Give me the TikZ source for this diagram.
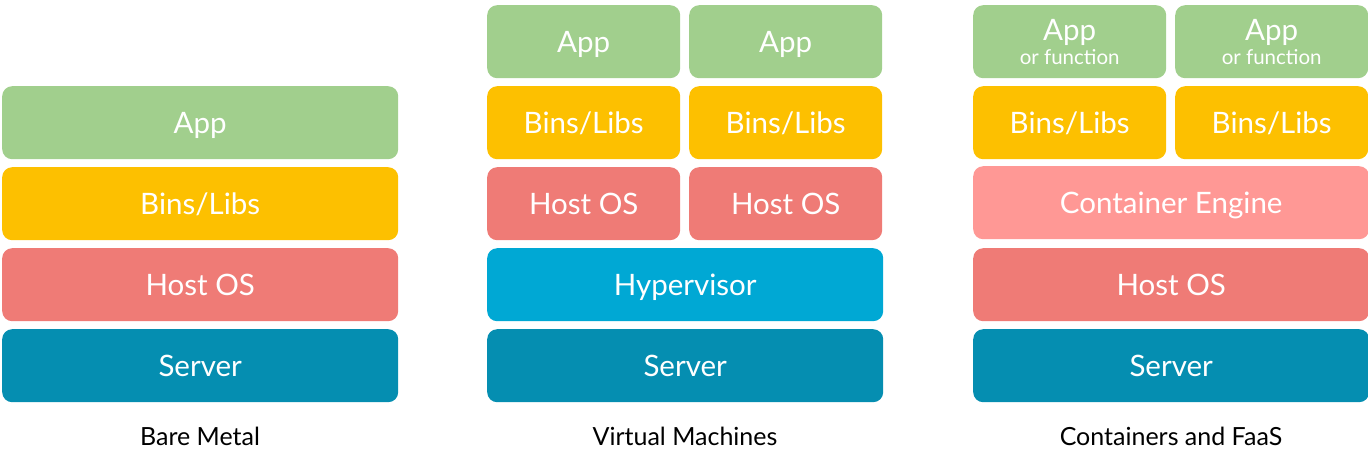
\documentclass[tikz,border=0pt]{standalone}
\usepackage{fontspec}
\setmainfont{Lato}
\definecolor{appgreen}{HTML}{A1CF8D}
\definecolor{libyellow}{HTML}{FDC000}
\definecolor{hostred}{HTML}{EF7B76}
\definecolor{enginered}{HTML}{FF9895}
\definecolor{hypercyan}{HTML}{00A8D4}
\definecolor{serverblue}{HTML}{058EB1}

\begin{document}
\begin{tikzpicture}[x=1pt, y=1pt,
    layer/.style={rounded corners=10pt, inner sep=0pt, anchor=north west,
        minimum height=73pt, text=white, font=\fontsize{29.5}{31}\selectfont},
    caps/.style={text height=21pt, text depth=0pt},
    full/.style={layer, caps, minimum width=396pt},
    half/.style={layer, caps, minimum width=193pt},
    caption/.style={font=\fontsize{25}{27}\selectfont}]
    \useasboundingbox (0,0) rectangle (1368,-464);
    % bare metal
    \begin{scope}[shift={(2,0)}]
        \node[full, fill=appgreen] (bapp) at (0,-86) {App};
        \node[full, fill=libyellow] (blib) at (0,-167) {Bins/Libs};
        \node[full, fill=hostred] (bos) at (0,-248) {Host OS};
        \node[full, fill=serverblue] (bsrv) at (0,-329) {Server};
        \node[caption] (bcap) at (198,-436) {Bare Metal};
    \end{scope}
    % virtual machines
    \begin{scope}[shift={(487,0)}]
        \node[half, fill=appgreen] (vapp1) at (0,-5) {App};
        \node[half, fill=appgreen] (vapp2) at (202,-5) {App};
        \node[half, fill=libyellow] (vlib1) at (0,-86) {Bins/Libs};
        \node[half, fill=libyellow] (vlib2) at (202,-86) {Bins/Libs};
        \node[half, fill=hostred] (vos1) at (0,-167) {Host OS};
        \node[half, fill=hostred] (vos2) at (202,-167) {Host OS};
        \node[full, fill=hypercyan] (vhyp) at (0,-248) {Hypervisor};
        \node[full, fill=serverblue] (vsrv) at (0,-329) {Server};
        \node[caption] (vcap) at (198,-436) {Virtual Machines};
    \end{scope}
    % containers and faas
    \begin{scope}[shift={(973,0)}]
        \node[layer, minimum width=193pt, fill=appgreen, align=center] (capp1) at (0,-5)
            {App\\[-7pt]{\fontsize{20.5}{22}\selectfont or function}};
        \node[layer, minimum width=193pt, fill=appgreen, align=center] (capp2) at (202,-5)
            {App\\[-7pt]{\fontsize{20.5}{22}\selectfont or function}};
        \node[half, fill=libyellow] (clib1) at (0,-86) {Bins/Libs};
        \node[half, fill=libyellow] (clib2) at (202,-86) {Bins/Libs};
        \node[full, fill=enginered] (ceng) at (0,-166) {Container Engine};
        \node[full, fill=hostred] (cos) at (0,-248) {Host OS};
        \node[full, fill=serverblue] (csrv) at (0,-329) {Server};
        \node[caption] (ccap) at (198,-436) {Containers and FaaS};
    \end{scope}
\end{tikzpicture}
\end{document}
